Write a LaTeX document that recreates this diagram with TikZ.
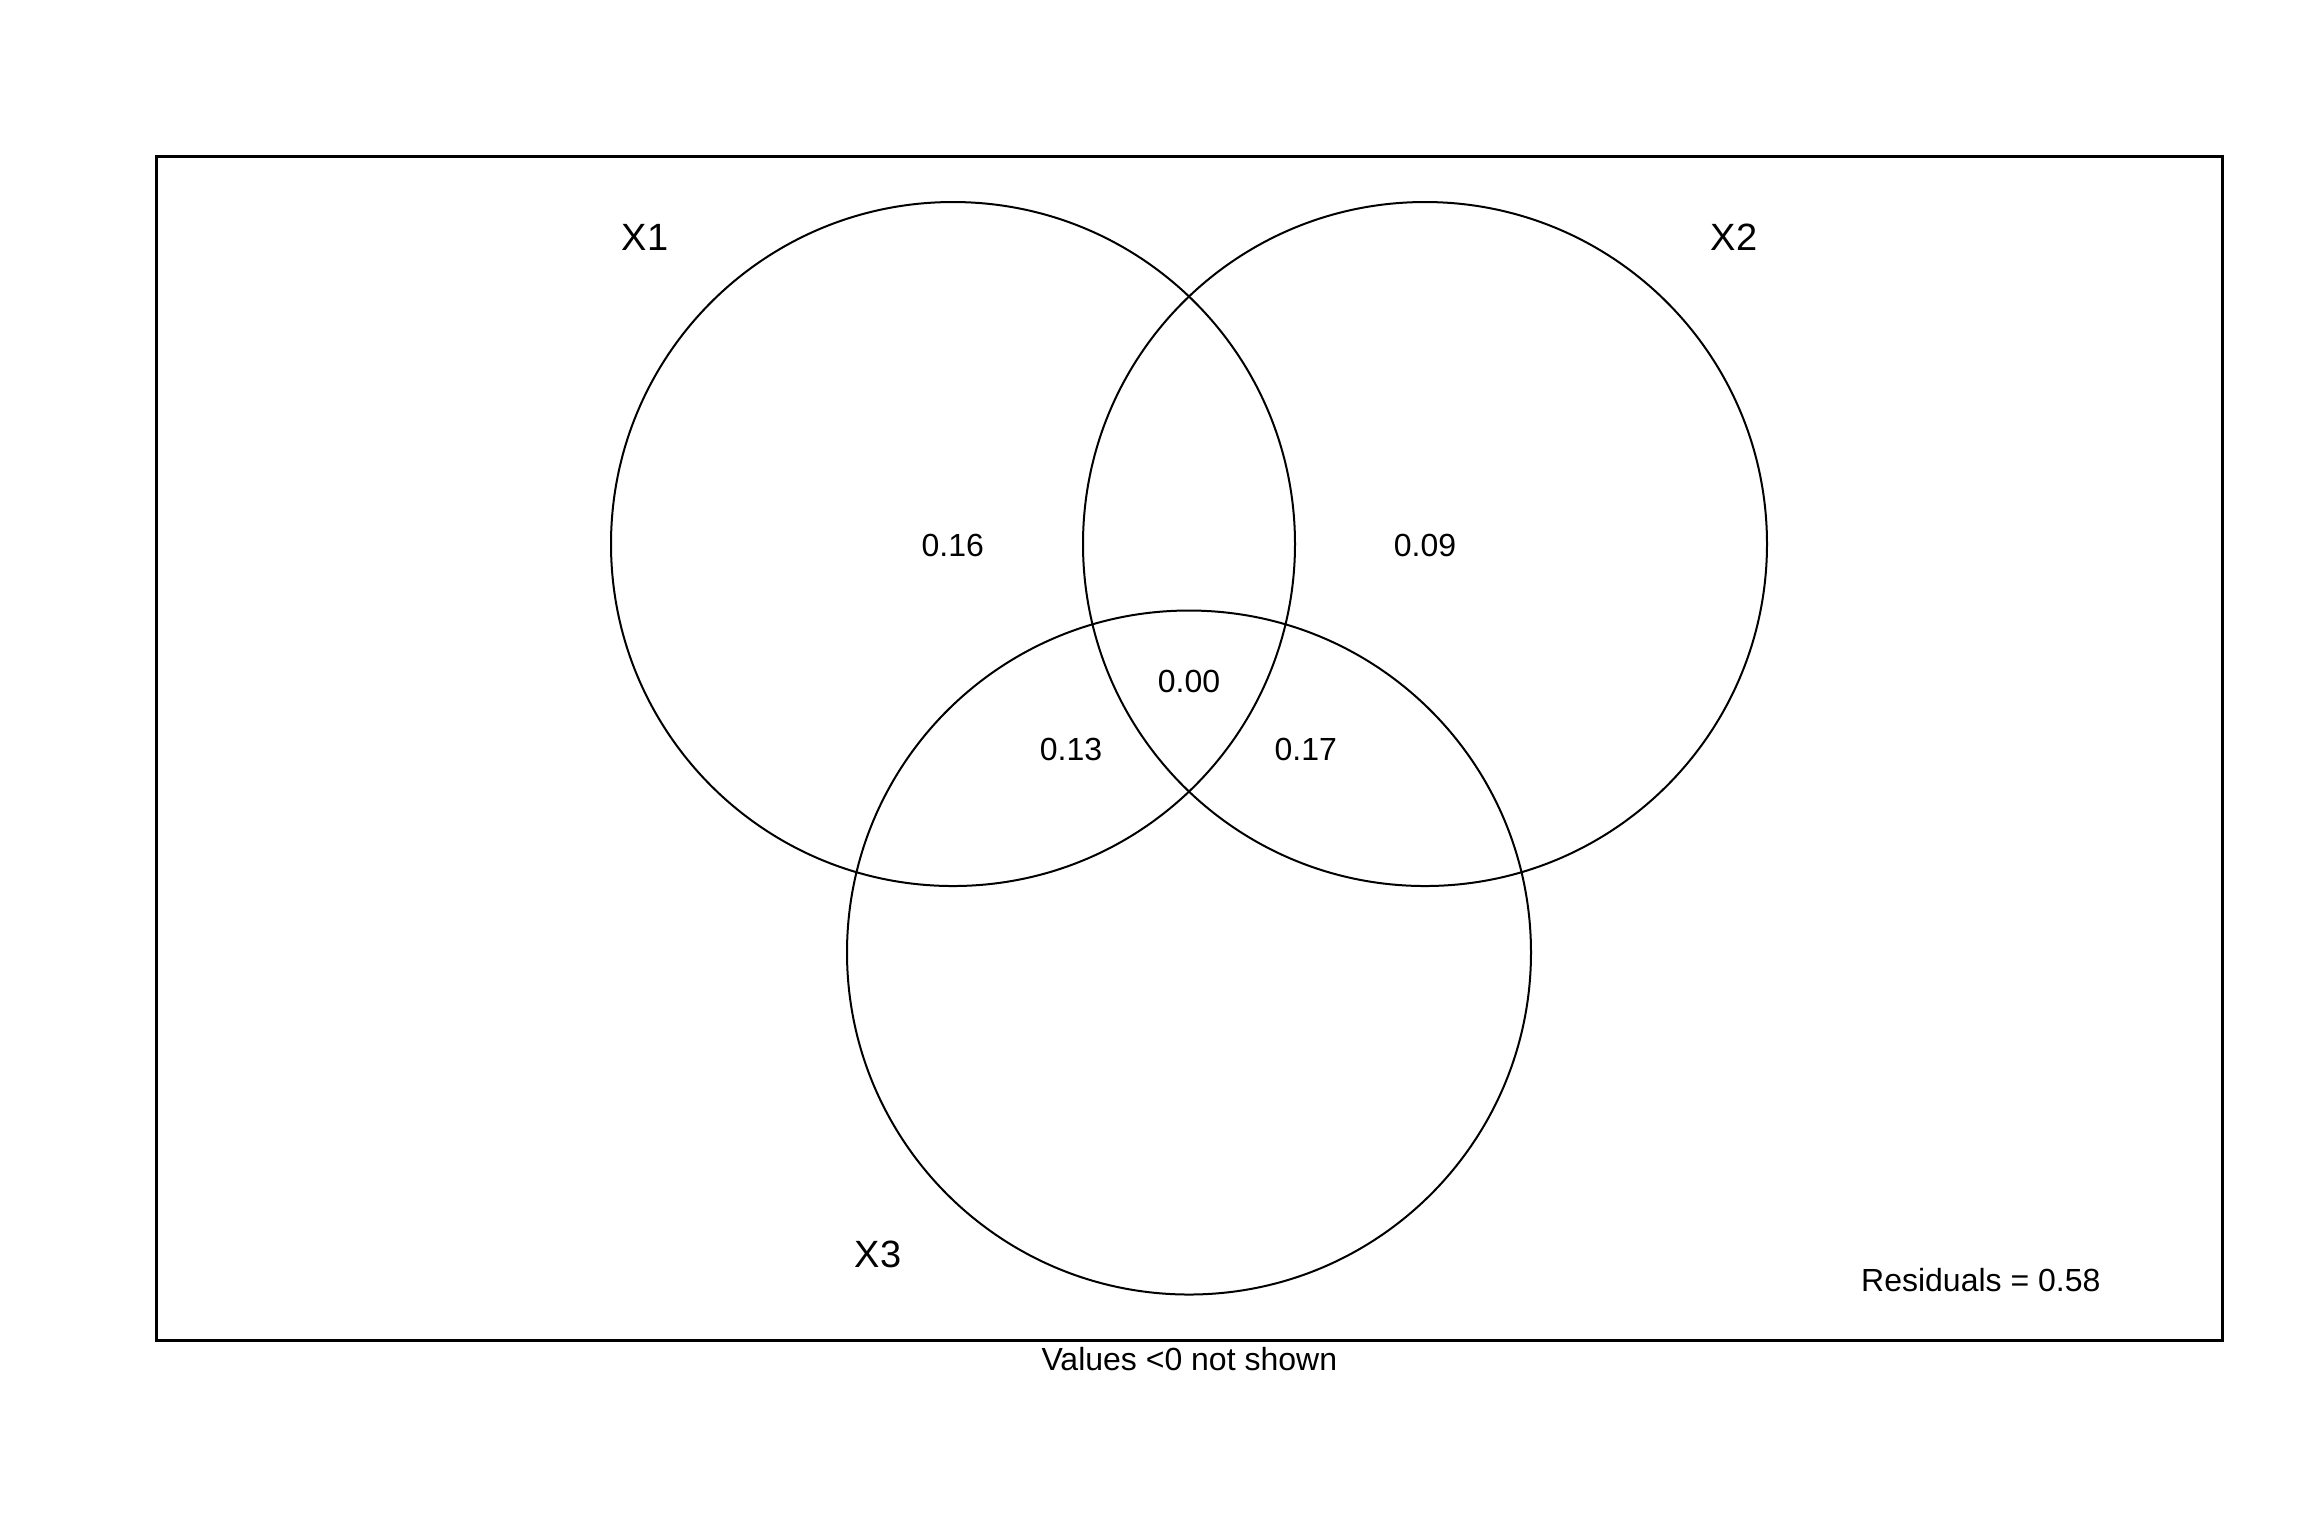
\documentclass[tikz,border=0pt]{standalone}
\usepackage{fontspec}
\setmainfont{Liberation Sans}
\begin{document}
\begin{tikzpicture}[x=0.25pt,y=-0.25pt,
  setc/.style={circle,draw=black,line width=0.5pt,minimum size=171pt,inner sep=0pt},
  val/.style={anchor=base,inner sep=0pt,font=\fontsize{8pt}{9.5pt}\selectfont},
  lab/.style={anchor=base,inner sep=0pt,font=\fontsize{9.5pt}{11pt}\selectfont}]
\useasboundingbox[fill=white] (0,0) rectangle (2304,1536);
\draw[line width=0.75pt] (156.7,156.7) rectangle (2222.7,1340);
\node[setc] (c1) at (953,544) {};
\node[setc] (c2) at (1425,544) {};
\node[setc] (c3) at (1189,952.5) {};
\node[lab] (l1) at (645,250.7) {X1};
\node[lab] (l2) at (1734,250.7) {X2};
\node[lab] (l3) at (878,1267.3) {X3};
\node[val] (v1) at (952.7,556) {0.16};
\node[val] (v2) at (1425,556) {0.09};
\node[val] (v123) at (1189,692.7) {0.00};
\node[val] (v13) at (1071,760) {0.13};
\node[val] (v23) at (1305.7,760) {0.17};
\node[val] (res) at (1980.8,1291) {Residuals = 0.58};
\node[val] (note) at (1189.3,1370.7) {Values <0 not shown};
\end{tikzpicture}
\end{document}
